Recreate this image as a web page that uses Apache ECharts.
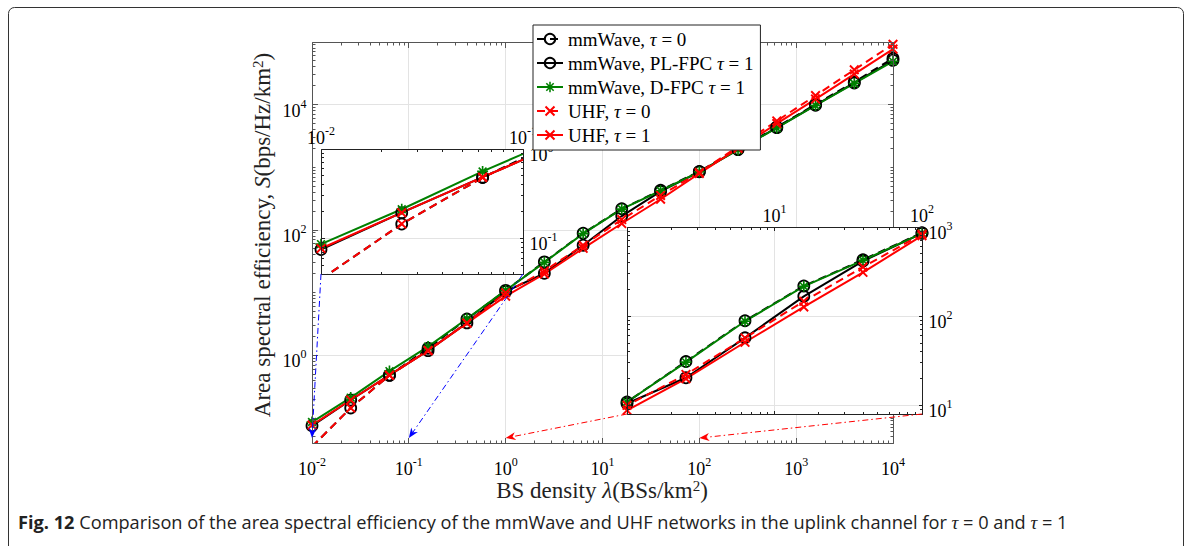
<!DOCTYPE html>
<html>
<head>
<meta charset="utf-8">
<script src="https://cdn.jsdelivr.net/npm/echarts@6/dist/echarts.min.js"></script>
<style>
html,body{margin:0;padding:0;background:#fff;}
#chart{width:1190px;height:546px;}
</style>
</head>
<body>
<div id="chart"></div>
<script>
const SERIF = '"Liberation Serif", "Times New Roman", serif';
const SANS = '"Open Sans", "Noto Sans", sans-serif';

// BS density lambda (BSs/km^2)
const lambda = [0.01, 0.0251, 0.0631, 0.158, 0.398, 1, 2.51, 6.31, 15.8, 39.8, 100, 251, 631, 1585, 3981, 10000];
// area spectral efficiency S (bps/Hz/km^2)
const aseMmwTau0  = [0.035, 0.145, 0.48, 1.3, 3.8, 10.9, 31, 89, 218, 430, 860, 1950, 4400, 10100, 23000, 55000];
const aseMmwPlFpc = [0.0752, 0.194, 0.484, 1.19, 3.3, 10.5, 20.4, 57.2, 167, 415, 850, 1920, 4300, 9800, 22200, 51000];
const aseMmwDFpc  = [0.0863, 0.212, 0.561, 1.38, 3.85, 10.9, 30.5, 87.7, 216, 423, 850, 1900, 4250, 9700, 21800, 49000];
const aseUhfTau0  = [0.035, 0.145, 0.48, 1.2, 3.3, 10.0, 22.2, 57, 147, 356, 830, 2150, 5500, 14000, 36000, 92000];
const aseUhfTau1  = [0.0772, 0.194, 0.484, 1.19, 3.25, 8.8, 19.9, 51, 127, 310, 800, 2000, 5000, 12300, 30800, 77000];

const seriesNames = ['mmWave, tau=0', 'mmWave, PL-FPC tau=1', 'mmWave, D-FPC tau=1', 'UHF, tau=0', 'UHF, tau=1'];
const legendLabels = ['mmWave, {i|τ} = 0', 'mmWave, PL-FPC {i|τ} = 1', 'mmWave, D-FPC {i|τ} = 1', 'UHF, {i|τ} = 0', 'UHF, {i|τ} = 1'];

// tick label exponents (10^k)
const mainXLabels = [-2, -1, 0, 1, 2, 3, 4];
const mainYLabels = [0, 2, 4];
const zoomAXLabels = [-2, -1];
const zoomAYLabels = [-1, 0];
const zoomBXLabels = [1, 2];
const zoomBYLabels = [1, 2, 3];

// plot boxes: main axes and two magnified views
const panels = [
  { left: 312, top: 42, width: 581, height: 401, x: [0.01, 1e4], y: [0.04, 1e5], yStep: 2,
    xLabels: mainXLabels, yLabels: mainYLabels, gridX: [0.1, 1, 10, 100, 1000], gridY: [1, 100, 1e4],
    labelPos: 'outer', boxColor: '#555', major: 5.5, minor: 3, z: 0 },
  { left: 321, top: 149, width: 202, height: 125, x: [0.01, 0.1], y: [0.04, 1], yStep: 1,
    xLabels: zoomAXLabels, yLabels: zoomAYLabels, gridX: [], gridY: [0.1],
    labelPos: 'inset', boxColor: '#222', major: 3.5, minor: 2.5, z: 10 },
  { left: 627, top: 227, width: 295, height: 187, x: [1, 100], y: [8, 1000], yStep: 1,
    xLabels: zoomBXLabels, yLabels: zoomBYLabels, gridX: [10], gridY: [10, 100],
    labelPos: 'inset', boxColor: '#222', major: 3.5, minor: 2.5, z: 10 }
];

const styles = [
  { color: '#000', dash: [8, 5], symbol: 'circle', fill: 'rgba(255,255,255,0)', border: '#000', size: 11 },
  { color: '#000', dash: 'solid', symbol: 'circle', fill: 'rgba(255,255,255,0)', border: '#000', size: 11 },
  { color: '#008000', dash: 'solid', symbol: 'star', fill: '#008000', border: '#008000', size: 11 },
  { color: '#ff0000', dash: [8, 5], symbol: 'cross', fill: '#ff0000', border: '#ff0000', size: 10 },
  { color: '#ff0000', dash: 'solid', symbol: 'cross', fill: '#ff0000', border: '#ff0000', size: 10 }
];
const seriesData = [aseMmwTau0, aseMmwPlFpc, aseMmwDFpc, aseUhfTau0, aseUhfTau1];

// marker outlines
function bar(angle, len, w) {
  const c = Math.cos(angle), s = Math.sin(angle);
  const pts = [[-len, -w], [len, -w], [len, w], [-len, w]].map(p => [10 + p[0] * c - p[1] * s, 10 + p[0] * s + p[1] * c]);
  return 'M' + pts.map(p => p[0].toFixed(2) + ',' + p[1].toFixed(2)).join(' L') + ' Z';
}
const crossPath = 'path://' + bar(Math.PI / 4, 10, 1.6) + ' ' + bar(-Math.PI / 4, 10, 1.6);
const starPath = 'path://' + [0, 1, 2, 3].map(k => bar(k * Math.PI / 4, 10, 1.5)).join(' ');
function symbolOf(s) { return s === 'cross' ? crossPath : s === 'star' ? starPath : s; }

function logTicks(range, step) {
  const lo = Math.floor(Math.log10(range[0])) - 1, hi = Math.ceil(Math.log10(range[1])) + 1;
  const major = [], minor = [];
  for (let k = lo; k <= hi; k++) {
    for (let m = 1; m <= 9; m++) {
      const v = m * Math.pow(10, k);
      if (v < range[0] * (1 - 1e-9) || v > range[1] * (1 + 1e-9)) continue;
      if (m === 1 && ((k % step) + step) % step === 0) major.push(v); else minor.push(v);
    }
  }
  return { major, minor };
}

const labelRich = {
  b: { fontFamily: SERIF, fontSize: 18, lineHeight: 22, verticalAlign: 'bottom', color: '#222' },
  s: { fontFamily: SERIF, fontSize: 12, lineHeight: 12, verticalAlign: 'top', color: '#222' }
};
function pow10Label(k) { return '{b|10}{s|' + k + '}'; }

function crisp(v) { return Math.round(v - 0.5) + 0.5; }
function seg(x1, y1, x2, y2, color, w) {
  return { type: 'line', shape: { x1, y1, x2, y2 }, style: { stroke: color, lineWidth: w || 1 } };
}

function decor(idx, layer) {
  const P = panels[idx];
  return {
    type: 'custom', xAxisIndex: idx, yAxisIndex: idx, silent: true, clip: false,
    z: P.z + (layer === 'grid' ? 1 : 4),
    data: [[P.x[0], P.y[0]]],
    renderItem: function (params, api) {
      const p0 = api.coord([P.x[0], P.y[0]]), p1 = api.coord([P.x[1], P.y[1]]);
      const L = crisp(p0[0]), B = crisp(p0[1]), R = crisp(p1[0]), T = crisp(p1[1]);
      const kids = [];
      const X = v => api.coord([v, P.y[0]])[0];
      const Y = v => api.coord([P.x[0], v])[1];
      if (layer === 'grid') {
        P.gridX.forEach(v => { const x = crisp(X(v)); kids.push(seg(x, T, x, B, '#e3e3e3')); });
        P.gridY.forEach(v => { const y = crisp(Y(v)); kids.push(seg(L, y, R, y, '#e3e3e3')); });
        return { type: 'group', children: kids };
      }
      const tx = logTicks(P.x, 1), ty = logTicks(P.y, P.yStep);
      const c = P.boxColor;
      [[tx.major, P.major], [tx.minor, P.minor]].forEach(([vals, len]) => vals.forEach(v => {
        const x = crisp(X(v));
        kids.push(seg(x, B, x, B - len, c), seg(x, T, x, T + len, c));
      }));
      [[ty.major, P.major], [ty.minor, P.minor]].forEach(([vals, len]) => vals.forEach(v => {
        const y = crisp(Y(v));
        kids.push(seg(L, y, L + len, y, c), seg(R, y, R - len, y, c));
      }));
      kids.push(seg(L, T, R, T, c), seg(L, B, R, B, c), seg(L, T, L, B, c), seg(R, T, R, B, c));
      P.xLabels.forEach(k => {
        const x = X(Math.pow(10, k));
        const y = P.labelPos === 'outer' ? B + 23 : T - 14;
        kids.push({ type: 'text', x: x, y: y, style: { text: pow10Label(k), rich: labelRich, align: 'center', verticalAlign: 'middle' } });
      });
      P.yLabels.forEach(k => {
        const y = Y(Math.pow(10, k)) + 4;
        if (P.labelPos === 'outer') {
          kids.push({ type: 'text', x: L - 6, y: y, style: { text: pow10Label(k), rich: labelRich, align: 'right', verticalAlign: 'middle' } });
        } else {
          kids.push({ type: 'text', x: R + 6, y: y, style: { text: pow10Label(k), rich: labelRich, align: 'left', verticalAlign: 'middle' } });
        }
      });
      return { type: 'group', children: kids };
    }
  };
}

const grids = panels.map(P => ({ left: P.left, top: P.top, width: P.width, height: P.height,
  show: true, backgroundColor: '#fff', borderWidth: 0, z: P.z }));
const xAxes = panels.map((P, i) => ({ type: 'log', logBase: 10, gridIndex: i, min: P.x[0], max: P.x[1], show: false }));
const yAxes = panels.map((P, i) => ({ type: 'log', logBase: 10, gridIndex: i, min: P.y[0], max: P.y[1], show: false }));

const series = [];
panels.forEach((P, gi) => {
  series.push(decor(gi, 'grid'));
  seriesData.forEach((vals, si) => {
    const st = styles[si];
    series.push({
      type: 'line', name: seriesNames[si], xAxisIndex: gi, yAxisIndex: gi,
      data: lambda.map((x, i) => [x, vals[i]]),
      z: P.z + 2, clip: true, silent: true, animation: false,
      symbol: symbolOf(st.symbol), symbolSize: st.size, showSymbol: true,
      lineStyle: { color: st.color, width: 2, type: st.dash },
      itemStyle: { color: st.fill, borderColor: st.border, borderWidth: st.symbol === 'circle' ? 1.8 : 0 },
      emphasis: { disabled: true }
    });
  });
  series.push(decor(gi, 'ticks'));
});

const chart = echarts.init(document.getElementById('chart'), null, { renderer: 'svg', width: 1190, height: 546 });
chart.setOption({
  animation: false,
  backgroundColor: '#fff',
  grid: grids, xAxis: xAxes, yAxis: yAxes,
  legend: {
    data: seriesNames, orient: 'vertical', left: 533, top: 25, z: 30,
    selectedMode: false, backgroundColor: '#fff', borderColor: '#222', borderWidth: 1,
    padding: [4, 7, 5, 3], itemGap: 4, itemWidth: 26, itemHeight: 13,
    formatter: name => legendLabels[seriesNames.indexOf(name)],
    textStyle: { fontFamily: SERIF, fontSize: 19, lineHeight: 20, color: '#000',
      rich: { i: { fontFamily: SERIF, fontSize: 19, fontStyle: 'italic', lineHeight: 20 } } }
  },
  series: series
});

// connectors from the magnified views to the ranges they show, and text
const tipS = 0.048;
function arrow(from, to, color) {
  const dx = to[0] - from[0], dy = to[1] - from[1], len = Math.hypot(dx, dy);
  const ux = dx / len, uy = dy / len, px = -uy, py = ux;
  const hl = 10, hw = 4, notch = 3;
  const base = [to[0] - ux * hl, to[1] - uy * hl];
  const back = [to[0] - ux * (hl - notch), to[1] - uy * (hl - notch)];
  return [
    { type: 'line', z: 20, shape: { x1: from[0], y1: from[1], x2: back[0], y2: back[1] },
      style: { stroke: color, lineWidth: 1, lineDash: [6, 3, 1.5, 3] } },
    { type: 'polygon', z: 20, shape: { points: [to, [base[0] + px * hw, base[1] + py * hw], back, [base[0] - px * hw, base[1] - py * hw]] },
      style: { fill: color } }
  ];
}
const px = (g, v) => chart.convertToPixel({ gridIndex: g }, v);
const connectors = [].concat(
  arrow(px(1, [0.01, 0.04]), px(0, [0.01, tipS]), '#0000ff'),
  arrow(px(1, [0.1, 0.04]), px(0, [0.1, tipS]), '#0000ff'),
  arrow(px(2, [1, 8]), px(0, [1, tipS]), '#ff0000'),
  arrow(px(2, [100, 8]), px(0, [100, tipS]), '#ff0000')
);

const titleRich = { i: { fontFamily: SERIF, fontSize: 23, fontStyle: 'italic' },
  s: { fontFamily: SERIF, fontSize: 15, verticalAlign: 'top', lineHeight: 14 } };
chart.setOption({
  graphic: connectors.concat([
    { type: 'rect', z: 0, shape: { x: 8.5, y: 7.5, width: 1175, height: 600, r: 6 },
      style: { fill: 'none', stroke: '#333', lineWidth: 1 } },
    { type: 'text', z: 25, x: 262, y: 235, rotation: Math.PI / 2,
      style: { text: 'Area spectral efficiency, {i|S}(bps/Hz/km{s|2})', align: 'center', verticalAlign: 'middle',
        fontFamily: SERIF, fontSize: 23, fill: '#222', rich: titleRich } },
    { type: 'text', z: 25, x: 602, y: 490,
      style: { text: 'BS density {i|λ}(BSs/km{s|2})', align: 'center', verticalAlign: 'middle',
        fontFamily: SERIF, fontSize: 23, fill: '#222', rich: titleRich } },
    { type: 'text', z: 25, x: 18, y: 522,
      style: { text: '{b|Fig. 12} Comparison of the area spectral efficiency of the mmWave and UHF networks in the uplink channel for {m|τ} = 0 and {m|τ} = 1',
        align: 'left', verticalAlign: 'middle', fontFamily: SANS, fontSize: 18.2, fill: '#222',
        rich: { b: { fontFamily: SANS, fontSize: 18.2, fontWeight: 'bold' }, m: { fontFamily: SERIF, fontSize: 19, fontStyle: 'italic' } } } }
  ])
});
</script>
</body>
</html>
